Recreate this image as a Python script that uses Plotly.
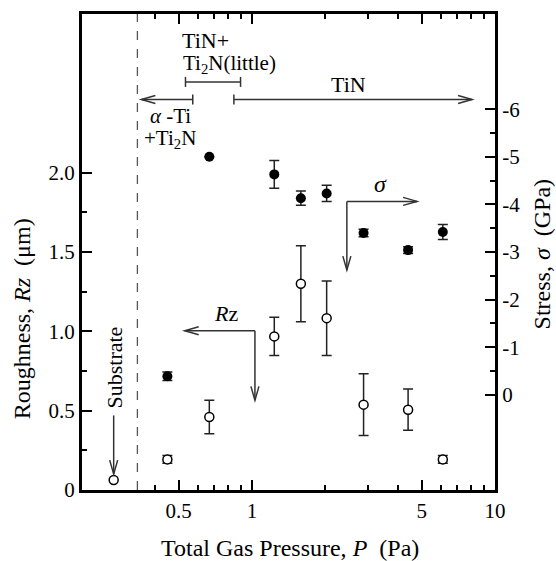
import math
import plotly.graph_objects as go

# ---------------- data ----------------
pressure = [0.449, 0.668, 1.236, 1.59, 2.03, 2.88, 4.39, 6.1]          # Pa
rz = [0.193, 0.46, 0.968, 1.30, 1.083, 0.538, 0.506, 0.193]             # um
rz_err = [0.025, 0.105, 0.12, 0.24, 0.235, 0.195, 0.13, 0.025]
stress = [-0.39, -5.0, -4.63, -4.13, -4.23, -3.40, -3.04, -3.42]        # GPa
stress_err = [0.09, 0.0, 0.29, 0.15, 0.17, 0.08, 0.07, 0.16]
substrate_pressure = [0.27]
substrate_rz = [0.063]

x_major = [0.5, 1, 5, 10]
x_major_text = ["0.5", "1", "5", "10"]
x_minor = [0.4, 0.6, 0.7, 0.8, 0.9, 2, 3, 4, 6, 7, 8, 9]
y_major = [0, 0.5, 1.0, 1.5, 2.0]
y_major_text = ["0", "0.5", "1.0", "1.5", "2.0"]
y_minor = [0.25, 0.75, 1.25, 1.75]
y2_major = [-6, -5, -4, -3, -2, -1, 0]
y2_major_text = ["-6", "-5", "-4", "-3", "-2", "-1", "0"]
y2_minor = [-5.5, -4.5, -3.5, -2.5, -1.5, -0.5]

FONT = "Liberation Serif, Times New Roman, serif"
INK = "#333333"

fig = go.Figure()

fig.add_trace(go.Scatter(
    x=pressure, y=stress, yaxis="y2", mode="markers",
    marker=dict(symbol="circle", size=10, color="black"),
    error_y=dict(type="data", array=stress_err, color="#222", thickness=1.5, width=5),
    showlegend=False))

fig.add_trace(go.Scatter(
    x=pressure, y=rz, mode="markers",
    marker=dict(symbol="circle", size=9, color="white", line=dict(color="black", width=1.5)),
    error_y=dict(type="data", array=rz_err, color="#222", thickness=1.5, width=5),
    showlegend=False))

fig.add_trace(go.Scatter(
    x=substrate_pressure, y=substrate_rz, mode="markers",
    marker=dict(symbol="circle", size=9, color="white", line=dict(color="black", width=1.5)),
    showlegend=False))

shapes = []


def line(x0, y0, x1, y1, color=INK, width=1.5, dash=None):
    d = dict(type="line", xref="x", yref="y", x0=x0, y0=y0, x1=x1, y1=y1,
             line=dict(color=color, width=width))
    if dash:
        d["line"]["dash"] = dash
    shapes.append(d)


def head(x, y, direction):
    # open chevron arrowhead with tip at (x, y); pixel sized
    L, W = 14, 4
    if direction == "left":
        p = f"M {L},{W} L 0,0 L {L},{-W}"
    elif direction == "right":
        p = f"M {-L},{W} L 0,0 L {-L},{-W}"
    else:  # down
        p = f"M {-W},{L} L 0,0 L {W},{L}"
    shapes.append(dict(type="path", xref="x", yref="y", xsizemode="pixel", ysizemode="pixel",
                       xanchor=x, yanchor=y, path=p, line=dict(color=INK, width=1.5)))


def cap(x, y, h=5):
    shapes.append(dict(type="line", xref="x", yref="y", xsizemode="pixel", ysizemode="pixel",
                       xanchor=x, yanchor=y, x0=0, x1=0, y0=-h, y1=h,
                       line=dict(color=INK, width=1.5)))


# dashed boundary line
line(0.338, 0, 0.338, 3.0, color="#555555", width=1.3, dash="dash")

# phase brackets at top
line(0.533, 2.572, 0.898, 2.572)
cap(0.533, 2.572)
cap(0.898, 2.572)
line(0.351, 2.461, 0.571, 2.461)
cap(0.571, 2.461)
head(0.351, 2.461, "left")
line(0.843, 2.461, 8.05, 2.461)
cap(0.843, 2.461)
head(8.05, 2.461, "right")

# sigma arrow
line(2.458, 1.819, 4.78, 1.819)
head(4.78, 1.819, "right")
line(2.458, 1.819, 2.458, 1.386)
head(2.458, 1.386, "down")

# Rz arrow
line(1.029, 1.004, 0.529, 1.004)
head(0.529, 1.004, "left")
line(1.029, 1.004, 1.029, 0.565)
head(1.029, 0.565, "down")

# substrate arrow
line(0.27, 0.47, 0.27, 0.10)
head(0.27, 0.10, "down")

fig.update_layout(shapes=shapes)

lg = math.log10
tf = dict(family=FONT, size=21, color="black")
ann = []


def text(x, y, s, xanchor="center", angle=0, size=21):
    ann.append(dict(x=lg(x), y=y, xref="x", yref="y", text=s, showarrow=False,
                    xanchor=xanchor, yanchor="middle", textangle=angle,
                    font=dict(family=FONT, size=size, color="black")))


text(0.505, 2.83, "TiN+", xanchor="left", size=22)
text(0.51, 2.685, "Ti<sub>2</sub>N(little)", xanchor="left")
text(2.49, 2.553, "TiN", size=22)
text(0.375, 2.36, "<i>α</i> -Ti", xanchor="left")
text(0.352, 2.21, "+Ti<sub>2</sub>N", xanchor="left")
text(3.37, 1.93, "<i>σ</i>", size=24)
text(0.786, 1.11, "<i>R</i>z", size=22)
text(0.272, 0.775, "Substrate", angle=-90, size=22)

# axis titles
TF = dict(family=FONT, size=24, color="black")
ann.append(dict(x=0.504, y=-0.121, xref="paper", yref="paper", showarrow=False,
                text="Total Gas Pressure, <i>P</i>  (Pa)", font=TF,
                xanchor="center", yanchor="middle"))
ann.append(dict(x=-0.145, y=0.359, xref="paper", yref="paper", showarrow=False,
                text="Roughness, <i>Rz</i>  (μm)", textangle=-90,
                font=TF, xanchor="center", yanchor="middle"))
ann.append(dict(x=1.114, y=0.495, xref="paper", yref="paper", showarrow=False,
                text="Stress, <i>σ</i>  (GPa)", textangle=-90,
                font=TF, xanchor="center", yanchor="middle"))

fig.update_layout(annotations=ann)

axis_common = dict(showgrid=False, zeroline=False, showline=True, linecolor="black", linewidth=3,
                   ticks="inside", ticklen=10, tickwidth=1.5, tickcolor="black", tickfont=tf)

fig.update_layout(
    width=556, height=561,
    margin=dict(l=82, r=61, t=11, b=71),
    paper_bgcolor="white", plot_bgcolor="white",
    font=dict(family=FONT, color="black"),
    xaxis=dict(type="log", range=[lg(0.2), lg(10)], tickmode="array", tickvals=x_major,
               ticktext=x_major_text, mirror="ticks",
               minor=dict(tickmode="array", tickvals=x_minor, ticks="inside", ticklen=5,
                          tickwidth=1.5, tickcolor="black", showgrid=False),
               **axis_common),
    yaxis=dict(range=[0, 3.0], tickmode="array", tickvals=y_major, ticktext=y_major_text,
               minor=dict(tickmode="array", tickvals=y_minor, ticks="inside", ticklen=5,
                          tickwidth=1.5, tickcolor="black", showgrid=False),
               **axis_common),
    yaxis2=dict(overlaying="y", side="right", range=[2, -8], tickmode="array",
                tickvals=y2_major, ticktext=y2_major_text,
                minor=dict(tickmode="array", tickvals=y2_minor, ticks="inside", ticklen=5,
                           tickwidth=1.5, tickcolor="black", showgrid=False),
                **axis_common),
)

fig.write_html("out.html", config={"displayModeBar": False},
               post_script="document.body.style.margin='0px';document.body.style.overflow='hidden';")
